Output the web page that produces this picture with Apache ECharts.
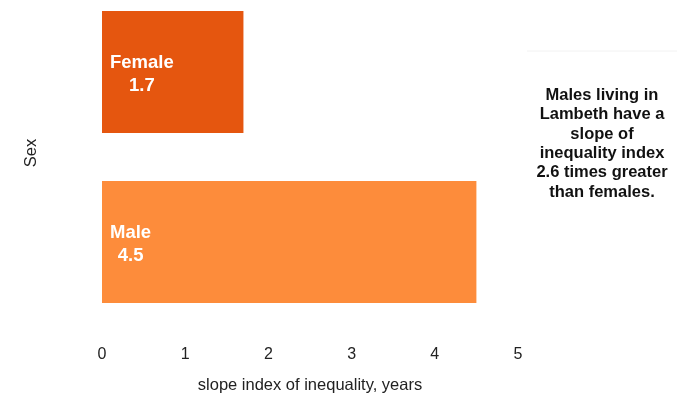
<!DOCTYPE html>
<html>
<head>
<meta charset="utf-8">
<script src="https://cdn.jsdelivr.net/npm/echarts@6/dist/echarts.min.js"></script>
<style>
  html, body { margin: 0; padding: 0; background: #fff; overflow: hidden; }
  #chart { width: 692px; height: 404px; }
</style>
</head>
<body>
<div id="chart"></div>
<script>
const categories = ['Female', 'Male']
const values = [1.7, 4.5]
const barColors = ['#E5560F', '#FD8C3B']
const xTicks = [0, 1, 2, 3, 4, 5]
const note = 'Males living in\nLambeth have a\nslope of\ninequality index\n2.6 times greater\nthan females.'

const FONT = 'Liberation Sans'

const chart = echarts.init(document.getElementById('chart'))
chart.setOption({
  animation: false,
  backgroundColor: '#fff',
  grid: { left: 102, right: 174, top: -13, bottom: 77, outerBoundsMode: 'none' },
  xAxis: {
    type: 'value',
    min: xTicks[0],
    max: xTicks[xTicks.length - 1],
    interval: 1,
    axisLine: { show: false },
    axisTick: { show: false },
    splitLine: { show: false },
    axisLabel: { margin: 20, fontSize: 16, color: '#222', fontFamily: FONT },
    name: 'slope index of inequality, years',
    nameLocation: 'middle',
    nameGap: 50,
    nameTextStyle: { fontSize: 16.5, color: '#222', fontFamily: FONT }
  },
  yAxis: {
    type: 'category',
    inverse: true,
    data: categories,
    axisLine: { show: false },
    axisTick: { show: false },
    axisLabel: { show: false },
    name: 'Sex',
    nameLocation: 'middle',
    nameGap: 62,
    nameTextStyle: { fontSize: 16.5, color: '#222', fontFamily: FONT, padding: [0, 0, 0, 8] }
  },
  series: [{
    type: 'bar',
    barWidth: 122,
    data: values.map((v, i) => ({
      value: v,
      itemStyle: { color: barColors[i] }
    })),
    label: {
      show: true,
      position: 'insideLeft',
      distance: 8,
      offset: [0, 2],
      formatter: p => '{a|' + categories[p.dataIndex] + '}\n{a|' + p.value + '}',
      rich: {
        a: {
          align: 'center',
          color: '#fff',
          fontSize: 18.5,
          fontWeight: 'bold',
          lineHeight: 23,
          fontFamily: FONT
        }
      }
    }
  }],
  graphic: [
    {
      type: 'line',
      shape: { x1: 527, y1: 51, x2: 677, y2: 51 },
      style: { stroke: '#f2f2f2', lineWidth: 1 }
    },
    {
      type: 'text',
      x: 602,
      y: 86,
      style: {
        text: note,
        align: 'center',
        verticalAlign: 'top',
        fill: '#111',
        fontFamily: FONT,
        fontWeight: 'bold',
        fontSize: 16.5,
        lineHeight: 19.3
      }
    }
  ]
})
</script>
</body>
</html>
